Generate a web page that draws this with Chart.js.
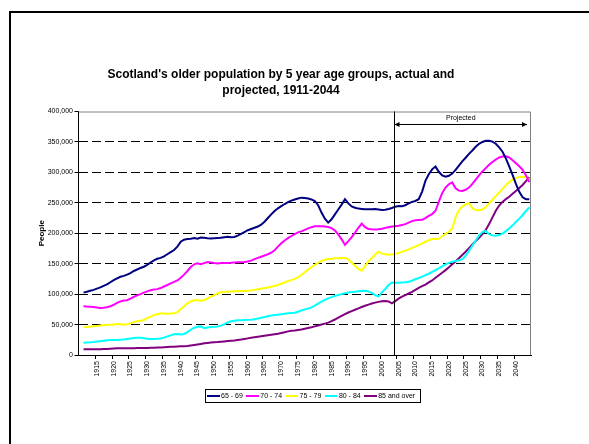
<!DOCTYPE html>
<html><head><meta charset="utf-8">
<script src="https://cdn.jsdelivr.net/npm/chart.js@4.4.1/dist/chart.umd.min.js"></script>
<style>
html,body{margin:0;padding:0;background:#fff;}
#wrap{position:relative;width:589px;height:444px;overflow:hidden;font-family:Arial,"Liberation Sans",sans-serif;}
#frame{position:absolute;left:9px;top:11px;width:700px;height:600px;border-top:2px solid #000;border-left:2px solid #000;}
#title{position:absolute;left:0;width:562px;top:66px;text-align:center;font-weight:bold;font-size:12px;line-height:16px;color:#000;}
#c{position:absolute;left:0;top:0;}
#legend{position:absolute;left:205px;top:389px;width:213px;height:12px;border:1px solid #000;display:flex;align-items:center;padding-left:1px;box-sizing:content-box;}
.li{display:flex;align-items:center;font-size:7px;line-height:12px;margin-right:3.5px;white-space:nowrap;}
.ls{display:inline-block;width:12.5px;height:2px;margin-right:1.5px;}
</style></head>
<body>
<div id="wrap">
  <div id="frame"></div>
  <canvas id="c" width="589" height="444"></canvas>
  <div id="title">Scotland's older population by 5 year age groups, actual and<br>projected, 1911-2044</div>
  <div id="legend"></div>
</div>
<script>
const FIRST_YEAR = 1911;
const LAST_YEAR = 2044;
const PROJECTION_START = 2004;
const years = [];
for (let y = FIRST_YEAR; y <= LAST_YEAR; y++) years.push(y);

const xTickLabels = [1915,1920,1925,1930,1935,1940,1945,1950,1955,1960,1965,1970,1975,1980,1985,1990,1995,2000,2005,2010,2015,2020,2025,2030,2035,2040];
const yTickValues = [0,50000,100000,150000,200000,250000,300000,350000,400000];

const seriesNames = ['65 - 69','70 - 74','75 - 79','80 - 84','85 and over'];
const seriesColors = ['#000080','#FF00FF','#FFFF00','#00FFFF','#800080'];

const age65_69 = [
102500,104000,105500,107000,109000,111000,113500,116000,119500,
123000,126000,128500,130000,132000,134500,138000,140500,143000,145000,
148000,152000,155500,158000,159500,162000,165500,169000,172500,178000,
186000,189500,190500,191000,192000,191000,193000,192500,191700,191500,
191700,192000,192700,193500,194400,193500,194000,196000,199000,202000,
205000,207000,209000,211000,214000,219000,225000,231000,236500,241000,
244500,248000,251000,253500,255500,257000,258500,258000,257000,255500,
253000,246000,234000,224000,217500,223000,231000,239000,247000,256000,
249000,244000,242000,240500,240000,239500,239300,239500,239800,239000,
238200,238500,239800,241500,243700,244800,244500,246000,249000,251500,
253000,256000,268000,286000,297000,305000,309500,301000,295000,293000,
294500,298000,304000,311000,318000,324000,330500,336000,342000,347000,
350000,352000,352000,350500,347000,341000,334000,323000,310000,296000,
281000,268000,259000,256000,256000];

const age70_74 = [
80000,79500,79400,79000,78000,77300,77500,78500,80000,
82500,85500,88000,89500,90000,92500,95500,98000,100000,102500,
104500,106500,107500,108200,110000,112500,115000,117700,120000,122500,
127000,132000,138000,144500,149000,150500,149000,151000,152800,152000,
151000,150500,151000,151000,151200,151500,152000,152200,152500,152800,
153500,155000,157500,159500,161500,163500,165500,168000,172000,178000,
183500,188000,192000,195500,198500,201500,203000,205500,208000,210000,
211400,211500,211400,211000,210300,208500,204500,198000,190000,181000,
187000,193500,201000,209000,216000,210000,207000,206400,206300,206500,
207500,208800,210000,211000,211500,212300,213500,215000,217500,220000,
221500,221800,222000,225000,228500,231500,237000,252000,266000,275000,
280500,283500,274000,270000,269500,271500,275000,281000,288000,295000,
301500,307000,312500,317000,321000,324500,326000,326400,324500,320000,
315000,310000,304000,295000,284000];

const age75_79 = [
45500,46000,46800,47300,47800,48400,49000,49300,49600,
50200,50800,50500,49900,50500,52000,54000,55500,56200,57500,
60500,63000,65500,67000,68300,68300,67900,68000,68500,70500,
75500,80000,85000,88000,90000,90400,89000,90000,93000,96000,
98500,101000,103000,103700,104000,104300,104600,104800,105000,105100,
105500,106000,107000,108000,109000,110000,110800,112000,113500,115000,
117000,119000,121500,123000,125000,127500,131500,136000,140500,144500,
148000,151500,154500,156500,157700,158300,158800,159000,159300,159400,
157000,152000,146500,141500,138500,146000,154000,159000,165000,169500,
166500,165500,164800,165000,165800,167500,169500,171500,173500,176000,
178000,180500,183500,186000,188500,190500,190600,191000,195000,199000,
202500,208000,226000,238000,244000,247500,249500,241000,238000,237700,
239000,243000,249000,255000,261000,267000,273000,279000,284000,288000,
291000,292500,293000,292500,288000];

const age80_84 = [
20300,20500,20800,21300,22000,22700,23500,24300,24600,
24600,24600,25000,25500,26300,27000,27800,28300,28300,27500,
26800,26300,26300,26500,27000,28500,30500,32200,34000,34300,
33500,34500,37500,41500,44800,46500,47000,44000,45200,45800,
46200,46800,48300,50500,53500,55300,56300,57000,57200,57400,
57700,58000,58600,59800,61200,62500,63800,65000,65700,66200,
66800,67600,68500,69000,69500,71000,73000,75000,76500,78300,
81000,84500,87500,90500,93000,95000,96800,98500,100000,101500,
102500,103300,104000,104700,105200,105700,104500,102000,98500,96000,
103000,108500,114500,119000,118800,118800,119200,119600,120300,122000,
124500,126500,128800,131000,133500,136500,139500,142300,145500,148800,
151300,153300,154500,155600,157500,163000,171000,179500,188000,196500,
202000,203700,198500,196500,196000,197000,199500,203500,208000,213000,
218500,224000,230000,236500,242500];

const age85plus = [
9300,9300,9300,9300,9400,9500,9700,9900,10200,
10600,11000,11000,11000,11000,11100,11200,11300,11500,11600,
11700,11800,12000,12200,12500,12800,13100,13400,13700,14000,
14200,14500,14800,15500,16300,17200,18200,19200,19900,20500,
21000,21300,21800,22300,22800,23300,23800,24500,25300,26300,
27300,28300,29200,30000,30800,31600,32400,33300,34100,35000,
36300,37500,38800,39700,40300,41200,42000,43200,44500,45500,
47000,48500,50000,51600,53100,55500,58300,61300,64200,67200,
69800,72200,74400,76600,78800,80800,82800,84500,86000,87300,
88300,88700,88000,85000,88500,92500,96000,98500,101000,103700,
107000,110200,113000,115700,119300,122500,126800,131000,135200,139400,
144000,149000,153800,158800,164200,169600,175500,181500,187000,192500,
198500,205500,215000,226000,237000,245500,251500,256000,260000,264800,
269500,274300,279300,285500,292000];

const seriesValues = [age65_69, age70_74, age75_79, age80_84, age85plus];

const datasets = seriesValues.map((vals, i) => ({
  label: seriesNames[i],
  data: vals.map((v, j) => ({x: years[j], y: v})),
  borderColor: seriesColors[i],
  backgroundColor: seriesColors[i],
  borderWidth: 2,
  pointRadius: 0,
  tension: 0,
  fill: false
}));

// HTML legend built from the series
const lg = document.getElementById('legend');
seriesNames.forEach((n, i) => {
  const it = document.createElement('span'); it.className = 'li';
  const s = document.createElement('span'); s.className = 'ls'; s.style.background = seriesColors[i];
  it.appendChild(s); it.appendChild(document.createTextNode(n));
  lg.appendChild(it);
});

const overlayPlugin = {
  id: 'overlay',
  afterDatasetsDraw(chart) {
    const {ctx, chartArea: a, scales: {x}} = chart;
    ctx.save();
    ctx.lineWidth = 1;
    ctx.strokeStyle = '#808080';
    ctx.beginPath();
    ctx.moveTo(a.left, a.top + 0.5);
    ctx.lineTo(a.right - 0.5, a.top + 0.5);
    ctx.lineTo(a.right - 0.5, a.bottom);
    ctx.stroke();
    const px = Math.round(x.getPixelForValue(PROJECTION_START - 0.5)) + 0.5;
    ctx.strokeStyle = '#000';
    ctx.beginPath(); ctx.moveTo(px, a.top); ctx.lineTo(px, a.bottom); ctx.stroke();
    const ay = Math.round(a.top + 12) + 0.5;
    const x1 = px, x2 = a.right - 4;
    ctx.beginPath(); ctx.moveTo(x1, ay); ctx.lineTo(x2, ay); ctx.stroke();
    ctx.fillStyle = '#000';
    ctx.beginPath(); ctx.moveTo(x1, ay); ctx.lineTo(x1 + 5, ay - 2.5); ctx.lineTo(x1 + 5, ay + 2.5); ctx.closePath(); ctx.fill();
    ctx.beginPath(); ctx.moveTo(x2, ay); ctx.lineTo(x2 - 5, ay - 2.5); ctx.lineTo(x2 - 5, ay + 2.5); ctx.closePath(); ctx.fill();
    ctx.font = '7px Arial, "Liberation Sans", sans-serif';
    ctx.textAlign = 'center'; ctx.textBaseline = 'middle';
    ctx.fillText('Projected', (x1 + x2) / 2, ay - 6);
    ctx.restore();
  }
};

new Chart(document.getElementById('c'), {
  type: 'line',
  data: { datasets },
  plugins: [overlayPlugin],
  options: {
    responsive: false,
    animation: false,
    devicePixelRatio: 1,
    layout: { padding: { left: 0, right: 58, top: 111.5, bottom: 0 } },
    plugins: { legend: { display: false }, title: { display: false }, tooltip: { enabled: false } },
    scales: {
      x: {
        type: 'linear',
        min: FIRST_YEAR - 1.5,
        max: LAST_YEAR + 0.5,
        afterBuildTicks(scale) { scale.ticks = xTickLabels.map(v => ({ value: v - 0.5 })); },
        afterFit(scale) { scale.height = 89; },
        ticks: {
          autoSkip: false, minRotation: 90, maxRotation: 90,
          font: { size: 7, family: 'Arial, "Liberation Sans", sans-serif' },
          color: '#000', padding: 2, labelOffset: 1.7,
          callback: (v, i) => String(xTickLabels[i])
        },
        grid: { drawOnChartArea: false, drawTicks: true, tickLength: 4, tickColor: '#000', color: '#000' },
        border: { display: true, color: '#000', width: 1 }
      },
      y: {
        min: 0, max: 400000,
        afterBuildTicks(scale) { scale.ticks = yTickValues.map(v => ({ value: v })); },
        afterFit(scale) { scale.width = 78.5; },
        ticks: {
          font: { size: 7, family: 'Arial, "Liberation Sans", sans-serif' },
          color: '#000', padding: 1.5,
          callback: v => v.toLocaleString('en-US')
        },
        grid: {
          color: c => (c.tick && (c.tick.value === 0 || c.tick.value === 400000)) ? 'rgba(0,0,0,0)' : '#000',
          lineWidth: 1, tickLength: 4, tickColor: '#000', tickBorderDash: []
        },
        border: { display: true, color: '#000', width: 1, dash: [9, 4] },
        title: {
          display: true, text: 'People', color: '#000',
          font: { size: 8, weight: 'bold', family: 'Arial, "Liberation Sans", sans-serif' },
          padding: { top: 37, bottom: 0 }
        }
      }
    }
  }
});
</script>
</body></html>
